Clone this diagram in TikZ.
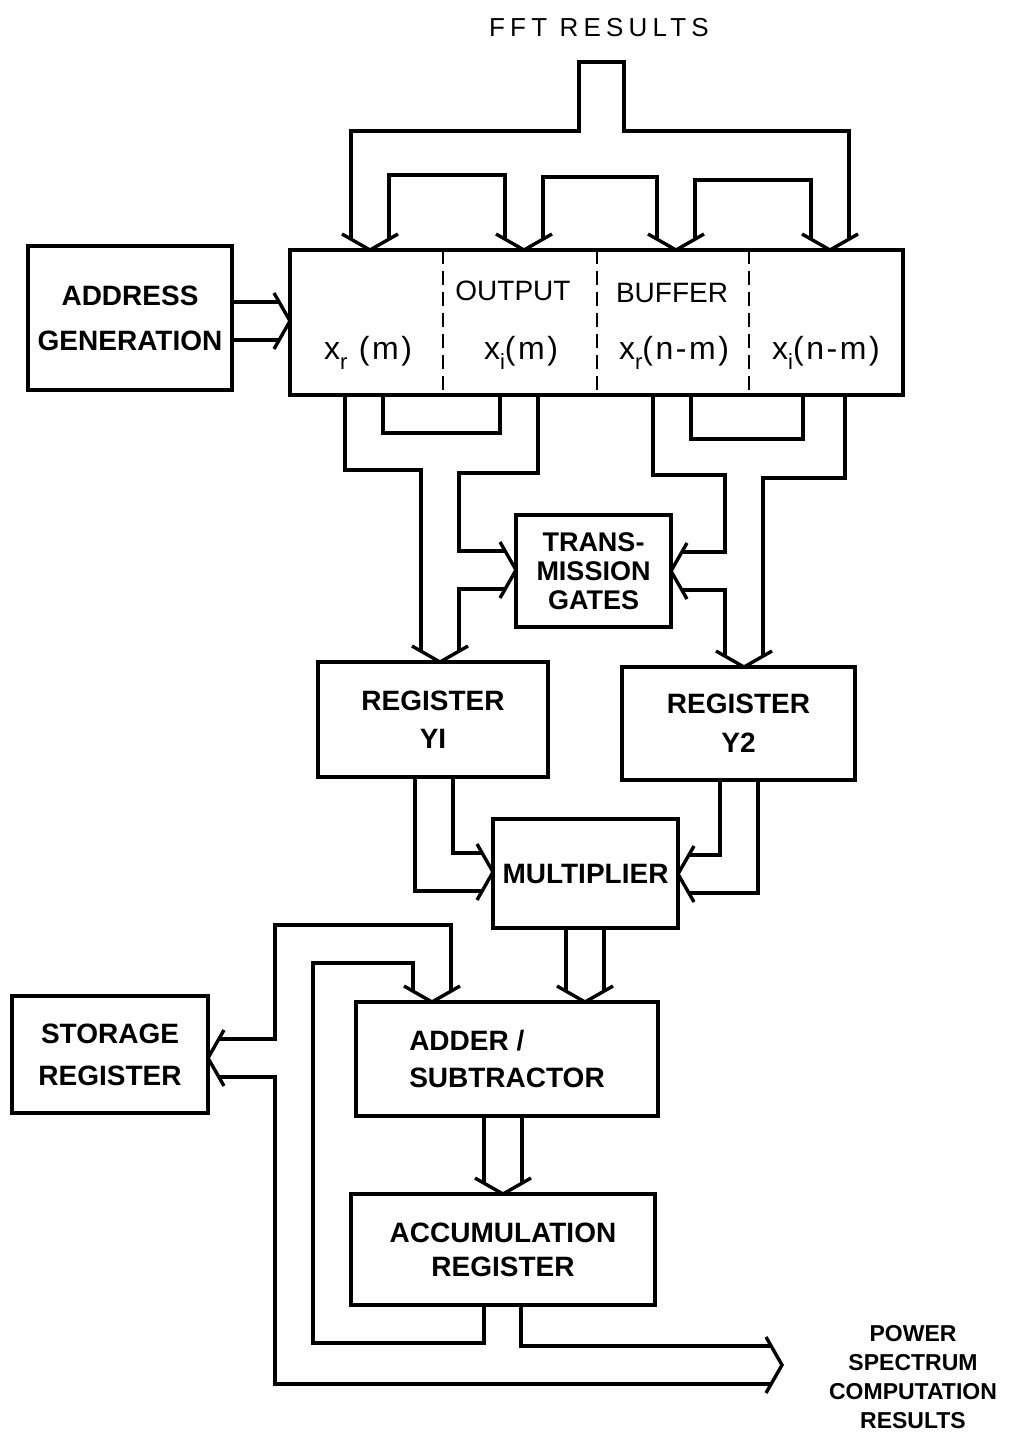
\documentclass[tikz,border=0pt]{standalone}
\usepackage{fontspec}
\setmainfont{Liberation Sans}
\newfontfamily\fftfont{Liberation Sans}[LetterSpace=20]
\newfontfamily\varfont{Liberation Sans}[LetterSpace=8]
\newcommand\sbs[1]{\raisebox{-0.6ex}{\fontsize{11}{11}\selectfont #1}}
\begin{document}
\begin{tikzpicture}[x=0.5pt,y=-0.5pt,line width=1.7pt,
  box/.style={draw,line width=1.7pt,inner sep=0pt,align=center,
    font=\bfseries\fontsize{14}{19}\selectfont},
  lbl/.style={inner sep=0pt,align=center,font=\bfseries\fontsize{14}{19}\selectfont},
  thin/.style={inner sep=0pt,font=\fontsize{14}{17}\selectfont},
  varlbl/.style={inner sep=0pt,font=\varfont\fontsize{16}{19}\selectfont},
  divider/.style={line width=1.1pt,dash pattern=on 7pt off 3.5pt},
  headD/.pic={\draw (-28,-16) -- (0,0) -- (28,-16);},
  headR/.pic={\draw (-16,-28) -- (0,0) -- (-16,28);},
  headL/.pic={\draw (16,-28) -- (0,0) -- (16,28);}]
\useasboundingbox (0,0) rectangle (1010,1434);

% ---------- boxes ----------
\node[box,minimum width=102pt,minimum height=72pt,font=\bfseries\fontsize{14}{22.5}\selectfont]
  (addr) at (130,318) {ADDRESS\\GENERATION};
\node[box,minimum width=306.5pt,minimum height=72.5pt] (buf) at (596.5,322.5) {};
\node[box,minimum width=77.5pt,minimum height=56pt,font=\bfseries\fontsize{13.5}{14.5}\selectfont]
  (tg) at (593.5,571) {TRANS-\\MISSION\\GATES};
\node[box,minimum width=115pt,minimum height=57.5pt] (y1) at (433,719.5) {REGISTER\\YI};
\node[box,minimum width=116.5pt,minimum height=56.5pt,font=\bfseries\fontsize{14}{19.5}\selectfont]
  (y2) at (738.5,723.5) {REGISTER\\Y2};
\node[box,minimum width=92.5pt,minimum height=54.5pt] (mul) at (585.5,873.5) {MULTIPLIER};
\node[box,minimum width=151pt,minimum height=57pt,align=left,font=\bfseries\fontsize{14}{18.5}\selectfont]
  (add) at (507,1059) {ADDER /\\SUBTRACTOR};
\node[box,minimum width=152pt,minimum height=55.5pt,font=\bfseries\fontsize{14}{17}\selectfont]
  (acc) at (503,1249.5) {ACCUMULATION\\REGISTER};
\node[box,minimum width=98pt,minimum height=58.5pt,font=\bfseries\fontsize{14}{21}\selectfont]
  (sto) at (110,1054.5) {STORAGE\\REGISTER};

% ---------- buffer interior ----------
\draw[divider] (443,250) -- (443,395);
\draw[divider] (597,250) -- (597,395);
\draw[divider] (749,250) -- (749,395);
\node[thin] (lout) at (513,291) {OUTPUT};
\node[thin] (lbuf) at (672,293) {BUFFER};
\node[varlbl] (vxr) at (368,353) {x\sbs{r} (m)};
\node[varlbl] (vxi) at (521,353) {x\sbs{i}(m)};
\node[varlbl] (vxrn) at (674,353) {x\sbs{r}(n-m)};
\node[varlbl] (vxin) at (826,353) {x\sbs{i}(n-m)};

% ---------- texts ----------
\node[inner sep=0pt,font=\fftfont\fontsize{13}{15}\selectfont] (fft) at (599,28) {FFT RESULTS};
\node[lbl,font=\bfseries\fontsize{11.5}{14.6}\selectfont] (psr) at (913,1377) {POWER\\SPECTRUM\\COMPUTATION\\RESULTS};

% ---------- arrow tips ----------
\coordinate (t1) at (370,250);
\coordinate (t2) at (524,250);
\coordinate (t3) at (676,250);
\coordinate (t4) at (830,250);
\coordinate (ta) at (290,321);
\coordinate (tgl) at (516,570);
\coordinate (tgr) at (671,571);
\coordinate (ty1) at (440,662);
\coordinate (ty2) at (744,667);
\coordinate (tml) at (493,872);
\coordinate (tmr) at (678,874);
\coordinate (tad1) at (432,1002);
\coordinate (tad2) at (585,1002);
\coordinate (tacc) at (503,1194);
\coordinate (tsto) at (208,1058);
\coordinate (tout) at (782,1365);
\foreach \c in {t1,t2,t3,t4,ty1,ty2,tad1,tad2,tacc} \pic at (\c) {headD};
\foreach \c in {ta,tgl,tml,tout} \pic at (\c) {headR};
\foreach \c in {tgr,tmr,tsto} \pic at (\c) {headL};

% ---------- FFT input bus ----------
\draw (351,239) -- (351,131) -- (579,131) -- (579,62) -- (624,62) -- (624,131) -- (849,131) -- (849,239);
\draw (389,239) -- (389,175) -- (505,175) -- (505,239);
\draw (543,239) -- (543,177) -- (657,177) -- (657,239);
\draw (695,239) -- (695,180) -- (811,180) -- (811,239);

% ---------- address bus ----------
\draw (232,302) -- (279,302);
\draw (232,340) -- (279,340);

% ---------- buffer outputs, left ----------
\draw (345,395) -- (345,470) -- (421,470) -- (421,651);
\draw (383,395) -- (383,433) -- (500,433) -- (500,395);
\draw (538,395) -- (538,473) -- (459,473) -- (459,551) -- (505,551);
\draw (505,589) -- (459,589) -- (459,651);

% ---------- buffer outputs, right ----------
\draw (653,395) -- (653,475) -- (725,475) -- (725,552) -- (682,552);
\draw (682,590) -- (725,590) -- (725,656);
\draw (845,395) -- (845,478) -- (763,478) -- (763,656);
\draw (691,395) -- (691,439) -- (803,439) -- (803,395);

% ---------- registers to multiplier ----------
\draw (453,777) -- (453,853) -- (482,853);
\draw (415,777) -- (415,891) -- (482,891);
\draw (720,780) -- (720,855) -- (689,855);
\draw (758,780) -- (758,893) -- (689,893);

% ---------- multiplier to adder ----------
\draw (566,928) -- (566,991);
\draw (604,928) -- (604,991);

% ---------- adder to accumulator ----------
\draw (484,1116) -- (484,1183);
\draw (522,1116) -- (522,1183);

% ---------- feedback and output ----------
\draw (413,991) -- (413,963) -- (313,963) -- (313,1343) -- (484,1343) -- (484,1305);
\draw (451,991) -- (451,925) -- (275,925) -- (275,1039) -- (219,1039);
\draw (219,1077) -- (275,1077) -- (275,1384) -- (771,1384);
\draw (521,1305) -- (521,1346) -- (771,1346);
\end{tikzpicture}
\end{document}
